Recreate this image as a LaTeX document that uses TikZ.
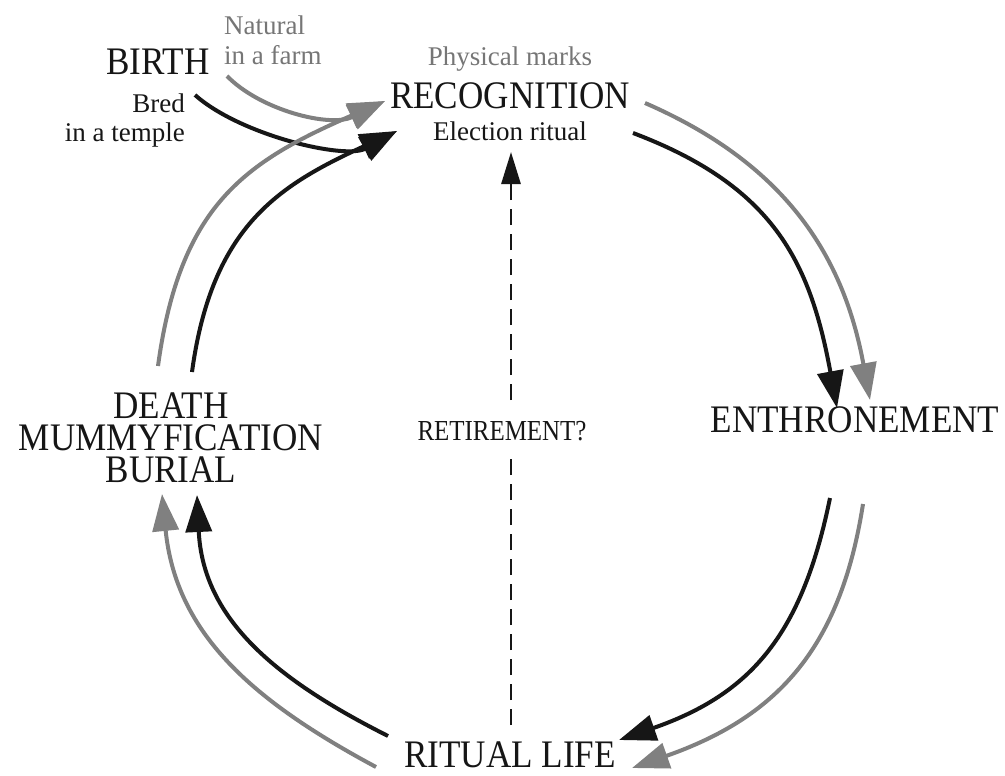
\documentclass[tikz,border=0pt]{standalone}
\usepackage{fontspec}
\setmainfont{Liberation Serif}
\newfontfamily\condserif[FakeStretch=0.9]{Liberation Serif}
\newfontfamily\retireserif[FakeStretch=0.86]{Liberation Serif}
\usetikzlibrary{arrows.meta}
\definecolor{arrgray}{RGB}{128,128,128}
\definecolor{txtgray}{RGB}{118,118,118}
\definecolor{ink}{RGB}{22,22,22}
\begin{document}
\begin{tikzpicture}[x=1pt,y=-1pt,
  bigl/.style={inner sep=0pt, anchor=base, text height=26pt, text depth=0pt, font=\condserif\fontsize{39}{39}\selectfont, text=ink},
  smalll/.style={inner sep=0pt, font=\fontsize{27}{27}\selectfont},
  flow/.style={line width=4pt, -{Triangle[length=37pt,width=26pt]}},
  blackflow/.style={flow, draw=ink},
  grayflow/.style={flow, draw=arrgray},
  dashflow/.style={line width=2.8pt, draw=ink, dash pattern=on 16pt off 9pt, -{Triangle[length=32pt,width=19pt]}}
  ]
\fill[white] (0,0) rectangle (1005,776);
\useasboundingbox (0,0) rectangle (1005,776);

% connector end points
\coordinate (natS) at (227,76);
\coordinate (bredS) at (195,95);
\coordinate (grayTip) at (385,101);
\coordinate (blackTip) at (397,131);
\coordinate (gTLs) at (158,366);
\coordinate (bTLs) at (192,372);
\coordinate (bTRs) at (633,133);
\coordinate (bTRe) at (837,408);
\coordinate (gTRs) at (645,103);
\coordinate (gTRe) at (870,400);
\coordinate (bBRs) at (830,498);
\coordinate (bBRe) at (619,740);
\coordinate (gBRs) at (863,504);
\coordinate (gBRe) at (632,768);
\coordinate (bBLs) at (388,736);
\coordinate (bBLe) at (197,495);
\coordinate (gBLs) at (376,767);
\coordinate (gBLe) at (162,494);
\coordinate (dashS) at (511,725);
\coordinate (dashE) at (511,152);

% retirement (dashed) drawn first, label masks it
\draw[dashflow] (dashS) -- (dashE);

% labels
\node[bigl] (birth) at (158,75) {BIRTH};
\node[smalll, anchor=base west, text=txtgray] (natural) at (224,35) {Natural};
\node[smalll, anchor=base west, text=txtgray] (farm) at (224,65) {in a farm};
\node[smalll, anchor=base east, text=ink] (bred) at (185,113) {Bred};
\node[smalll, anchor=base east, text=ink] (temple) at (185,141) {in a temple};
\node[smalll, anchor=base, text=txtgray] (marks) at (510,66) {Physical marks};
\node[bigl] (recog) at (510,109) {RECOGNITION};
\node[smalll, anchor=base, text=ink] (election) at (510,140) {Election ritual};
\node[bigl] (enthr) at (855,432) {ENTHRONEMENT};
\node[bigl] (death) at (171,418) {DEATH};
\node[bigl] (mummy) at (171,450) {MUMMYFICATION};
\node[bigl] (burial) at (171,482) {BURIAL};
\node[anchor=base, inner xsep=3pt, inner ysep=16pt, fill=white, font=\retireserif\fontsize{29}{29}\selectfont, text=ink] (retire) at (502,440) {RETIREMENT?};
\node[bigl] (ritual) at (510,767) {RITUAL LIFE};

% birth arrows
\draw[grayflow] (natS) .. controls (260,110) and (330,128) .. (grayTip);
\draw[blackflow] (bredS) .. controls (240,135) and (345,160) .. (blackTip);
% top-left
\draw[grayflow] (gTLs) .. controls (180,205) and (245,162) .. (grayTip);
\draw[blackflow] (bTLs) .. controls (212,225) and (280,185) .. (blackTip);
% top-right
\draw[blackflow] (bTRs) .. controls (773,186) and (810,261) .. (bTRe);
\draw[grayflow] (gTRs) .. controls (783,163) and (843,253) .. (gTRe);
% bottom-right
\draw[blackflow] (bBRs) .. controls (802,635) and (751,694) .. (bBRe);
\draw[grayflow] (gBRs) .. controls (840,652) and (774,718) .. (gBRe);
% bottom-left
\draw[blackflow] (bBLs) .. controls (277,680) and (203,620) .. (bBLe);
\draw[grayflow] (gBLs) .. controls (253,701) and (176,634) .. (gBLe);
\end{tikzpicture}
\end{document}
